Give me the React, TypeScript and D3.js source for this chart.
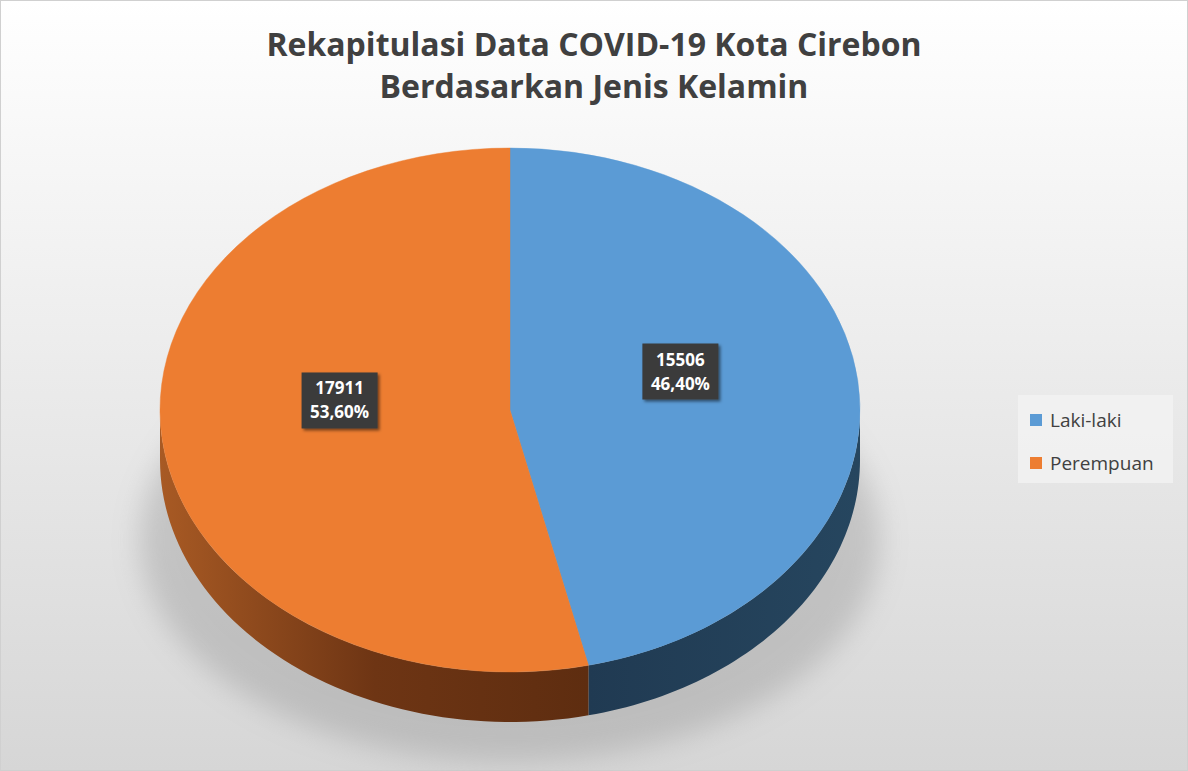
import React from "react";
import * as d3 from "d3";

const categories = ["Laki-laki", "Perempuan"];
const values = [15506, 17911];
const percents = ["46,40%", "53,60%"];
const topColors = ["#5B9BD5", "#ED7D31"];
const sideColors = ["#213F5A", "#7A3C14"];

const W = 1188, H = 771;
const cx = 510, cy = 410, rx = 350, ry = 262, depth = 50;

const ex = (a: number, r = rx) => cx + r * Math.sin(a);
const ey = (a: number, r = ry) => cy - r * Math.cos(a);

export default function App() {
  const arcs = d3.pie<number>().sort(null)(values);
  const arcGen = d3.arc<d3.PieArcDatum<number>>().innerRadius(0).outerRadius(rx);

  // side walls for the visible front half (angles between PI/2 and 3PI/2)
  const sides = arcs.map((a, i) => {
    const s = Math.max(a.startAngle, Math.PI / 2);
    const e = Math.min(a.endAngle, (3 * Math.PI) / 2);
    if (e <= s) return null;
    const steps = d3.range(0, 61).map((k) => s + ((e - s) * k) / 60);
    const top = steps.map((t) => [ex(t), ey(t)]);
    const bot = steps.slice().reverse().map((t) => [ex(t), ey(t) + depth]);
    const d = "M" + top.concat(bot).map((p) => p.join(",")).join("L") + "Z";
    return <path key={i} d={d} fill={`url(#side${i})`} />;
  });

  return (
    <svg width={W} height={H} style={{ position: "absolute", left: 0, top: 0 }}>
      <defs>
        <linearGradient id="bg" x1="0" y1="0" x2="0" y2="1">
          <stop offset="0%" stopColor="#ffffff" />
          <stop offset="100%" stopColor="#d6d6d6" />
        </linearGradient>
        <linearGradient id="side0" x1="0" y1="0" x2="1" y2="0">
          <stop offset="0%" stopColor="#203A52" />
          <stop offset="100%" stopColor="#26465F" />
        </linearGradient>
        <linearGradient id="side1" x1="0" y1="0" x2="1" y2="0">
          <stop offset="0%" stopColor="#A85A24" />
          <stop offset="50%" stopColor="#6E3514" />
          <stop offset="100%" stopColor="#5E2D10" />
        </linearGradient>
        <filter id="blur" x="-20%" y="-20%" width="140%" height="140%">
          <feGaussianBlur stdDeviation="14" />
        </filter>
        <filter id="lblShadow">
          <feDropShadow dx="2" dy="2" stdDeviation="1.5" floodColor="#000" floodOpacity="0.5" />
        </filter>
      </defs>
      <rect x={0.5} y={0.5} width={W - 1} height={H - 1} fill="url(#bg)" stroke="#d0d0d0" />
      <text x={594} y={56} textAnchor="middle" fontFamily="Open Sans, sans-serif" fontWeight="bold" fontSize={32} fill="#404040">
        Rekapitulasi Data COVID-19 Kota Cirebon
      </text>
      <text x={594} y={98} textAnchor="middle" fontFamily="Open Sans, sans-serif" fontWeight="bold" fontSize={32} fill="#404040">
        Berdasarkan Jenis Kelamin
      </text>
      <ellipse cx={cx} cy={cy + 130} rx={rx + 20} ry={ry - 40} fill="#8a8a8a" opacity={0.35} filter="url(#blur)" />
      {sides}
      <g transform={`translate(${cx},${cy}) scale(1,${ry / rx})`}>
        {arcs.map((a, i) => (
          <path key={i} d={arcGen(a) || ""} fill={topColors[i]} stroke={topColors[i]} strokeWidth={0.5} />
        ))}
      </g>
      {arcs.map((a, i) => {
        const m = (a.startAngle + a.endAngle) / 2;
        const x = ex(m, rx * 0.49);
        const y = ey(m, ry * 0.49) - 24;
        return (
          <g key={i} transform={`translate(${x},${y})`}>
            <rect x={-38} y={-28} width={76} height={56} fill="#3a3a3a" filter="url(#lblShadow)" />
            <text textAnchor="middle" y={-6} fontFamily="Open Sans, sans-serif" fontWeight="bold" fontSize={17} fill="#fff">
              {values[i]}
            </text>
            <text textAnchor="middle" y={18} fontFamily="Open Sans, sans-serif" fontWeight="bold" fontSize={17} fill="#fff">
              {percents[i]}
            </text>
          </g>
        );
      })}
      <rect x={1018} y={395} width={155} height={88} fill="#f2f2f2" opacity={0.8} />
      {categories.map((c, i) => (
        <g key={c} transform={`translate(1030,${420 + i * 43})`}>
          <rect x={0} y={-6} width={12} height={12} fill={topColors[i]} />
          <text x={20} y={7} fontFamily="Open Sans, sans-serif" fontSize={19} fill="#404040">{c}</text>
        </g>
      ))}
    </svg>
  );
}
